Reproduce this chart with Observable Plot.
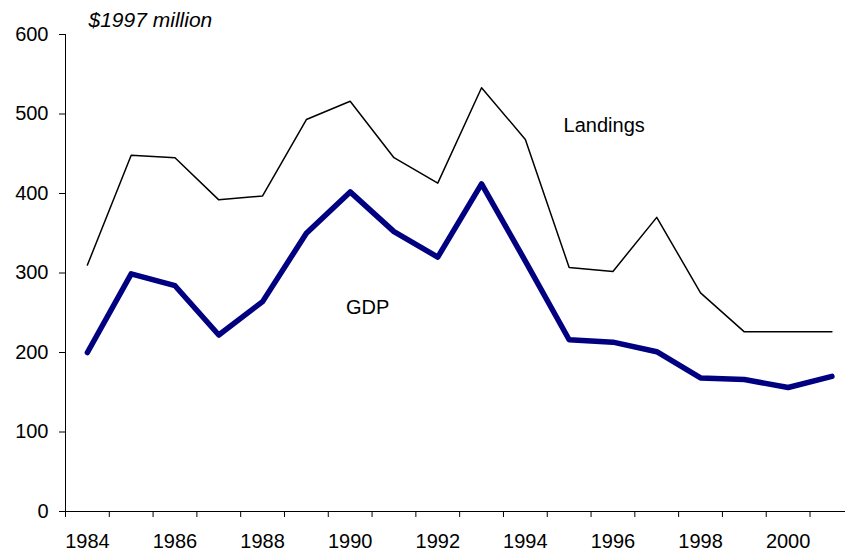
<!DOCTYPE html>
<html><head><meta charset="utf-8">
<script src="https://cdn.jsdelivr.net/npm/d3@7"></script>
<script src="https://cdn.jsdelivr.net/npm/@observablehq/plot@0.6"></script>
<style>body{margin:0;background:#fff;}</style>
</head><body><div id="chart"></div>
<script>
const years = [1984,1985,1986,1987,1988,1989,1990,1991,1992,1993,1994,1995,1996,1997,1998,1999,2000,2001];
const landings = [310,448,445,392,397,493,516,445,413,533,468,307,302,370,275,226,226,226];
const gdp = [200,299,284,222,264,350,402,352,320,412,315,216,213,201,168,166,156,170];
const yTicks = [0,100,200,300,400,500,600];
const xLabels = [1984,1986,1988,1990,1992,1994,1996,1998,2000];
const subtitle = "$1997 million";
const seriesLabels = ["Landings","GDP"];

const rows = years.map((year,i)=>({year, landings: landings[i], gdp: gdp[i]}));
const boundaries = years.map(y => y - 0.5);
const font = "'Liberation Sans', Arial, Helvetica, sans-serif";

const chart = Plot.plot({
  width: 845, height: 552,
  marginLeft: 65, marginRight: 0, marginTop: 34, marginBottom: 41,
  style: {fontFamily: font, fontSize: "20px", color: "#000", background: "#fff", overflow: "hidden"},
  x: {domain: [1983.5, 2001.31]},
  y: {domain: [0, 600]},
  marks: [
    Plot.ruleY([0], {stroke: "#000", strokeWidth: 1}),
    Plot.ruleX([1983.5], {stroke: "#000", strokeWidth: 1}),
    Plot.axisY({ticks: yTicks, tickSize: 6, tickPadding: 11, fontSize: 20, label: null, tickFormat: d => String(d), stroke: "#000", strokeOpacity: 1}),
    Plot.axisX({ticks: boundaries, tickSize: 6, tickFormat: () => "", label: null, stroke: "#000", strokeOpacity: 1}),
    Plot.axisX({ticks: xLabels, tickSize: 0, tickPadding: 22, tickFormat: d => String(d), fontSize: 20, label: null}),
    Plot.line(rows, {x: "year", y: "landings", stroke: "#000", strokeWidth: 1.5}),
    Plot.line(rows, {x: "year", y: "gdp", stroke: "#000080", strokeWidth: 5.5, strokeLinejoin: "round", strokeLinecap: "round"}),
    Plot.text([seriesLabels[0]], {x: 1995.8, y: 485, text: d => d, fontSize: 20, textAnchor: "middle", fill: "#000"}),
    Plot.text([seriesLabels[1]], {x: 1990.4, y: 257, text: d => d, fontSize: 20, textAnchor: "middle", fill: "#000"}),
    Plot.text([subtitle], {frameAnchor: "top-left", dx: 23, dy: -14, text: d => d, fontStyle: "italic", fontSize: 21, textAnchor: "start", lineAnchor: "middle", fill: "#000"})
  ]
});
document.getElementById("chart").append(chart);
</script>
</body></html>
